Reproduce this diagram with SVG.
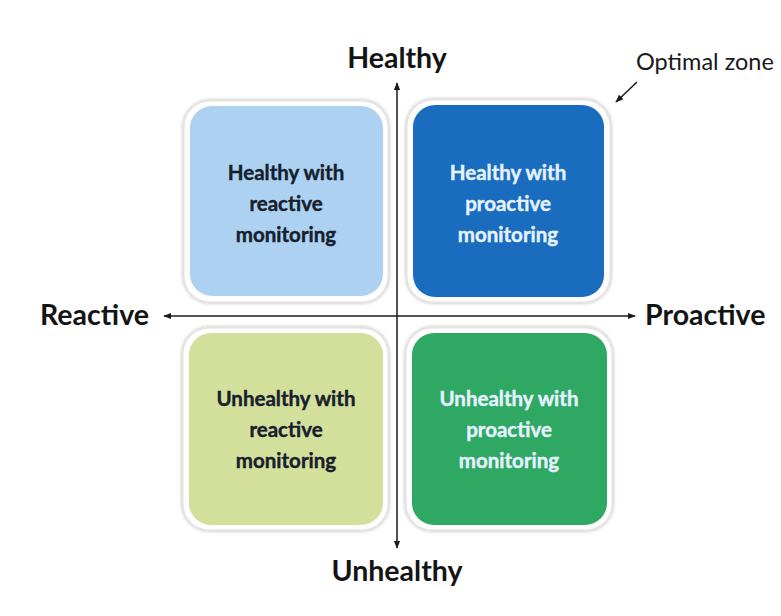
<svg xmlns="http://www.w3.org/2000/svg" width="781" height="616" viewBox="0 0 781 616">
  <defs>
    <marker id="arrow" viewBox="0 0 10 10" refX="9" refY="5" markerWidth="8" markerHeight="8" orient="auto-start-reverse" markerUnits="userSpaceOnUse">
      <path d="M0,1 L10,5 L0,9 Z" fill="#1a1a1a"/>
    </marker>
    <filter id="shadow" x="-10%" y="-10%" width="120%" height="120%">
      <feGaussianBlur in="SourceAlpha" stdDeviation="2"/>
      <feComponentTransfer><feFuncA type="linear" slope="0.35"/></feComponentTransfer>
      <feMerge><feMergeNode/><feMergeNode in="SourceGraphic"/></feMerge>
    </filter>
    <style>
      .rim { fill: #ffffff; stroke: #e4e1dc; stroke-width: 1; filter: url(#shadow); }
      .axis-label { font-family: Lato, "Open Sans", sans-serif; font-weight: bold; font-size: 28.5px; fill: #141414; }
      .box-text { font-family: Lato, "Open Sans", sans-serif; font-weight: bold; font-size: 20.5px; text-anchor: middle; stroke-width: 0.4; }
      .dark { fill: #16202c; stroke: #16202c; }
      .light { fill: #e6f2ff; stroke: #e6f2ff; }
      .axis { stroke: #1a1a1a; stroke-width: 1.5; fill: none; }
    </style>
  </defs>

  <rect width="781" height="616" fill="#ffffff"/>

  <!-- quadrant boxes -->
  <g id="healthy-reactive">
    <rect class="rim" x="184" y="101" width="204" height="201" rx="26"/>
    <rect x="190" y="106" width="193" height="190" rx="22" fill="#acd1f1"/>
    <text class="box-text dark" x="286" y="180">Healthy with</text>
    <text class="box-text dark" x="286" y="211">reactive</text>
    <text class="box-text dark" x="286" y="242">monitoring</text>
  </g>

  <g id="healthy-proactive">
    <rect class="rim" x="407" y="100" width="203" height="202" rx="26"/>
    <rect x="413" y="105" width="191" height="192" rx="22" fill="#1a6cbe"/>
    <text class="box-text light" x="508" y="180">Healthy with</text>
    <text class="box-text light" x="508" y="211">proactive</text>
    <text class="box-text light" x="508" y="242">monitoring</text>
  </g>

  <g id="unhealthy-reactive">
    <rect class="rim" x="183" y="328" width="205" height="202" rx="26"/>
    <rect x="189" y="333" width="194" height="192" rx="22" fill="#d3e09c"/>
    <text class="box-text dark" x="286" y="406">Unhealthy with</text>
    <text class="box-text dark" x="286" y="437">reactive</text>
    <text class="box-text dark" x="286" y="468">monitoring</text>
  </g>

  <g id="unhealthy-proactive">
    <rect class="rim" x="406" y="328" width="206" height="202" rx="26"/>
    <rect x="412" y="333" width="195" height="192" rx="22" fill="#2ea862"/>
    <text class="box-text light" x="509" y="406">Unhealthy with</text>
    <text class="box-text light" x="509" y="437">proactive</text>
    <text class="box-text light" x="509" y="468">monitoring</text>
  </g>

  <!-- axes and pointer -->
  <g id="connectors">
    <line class="axis" x1="397" y1="548" x2="397" y2="83" marker-start="url(#arrow)" marker-end="url(#arrow)"/>
    <line class="axis" x1="164" y1="316" x2="635" y2="316" marker-start="url(#arrow)" marker-end="url(#arrow)"/>
    <line class="axis" x1="637" y1="82" x2="616" y2="102" stroke-width="1.3" marker-end="url(#arrow)"/>
  </g>

  <!-- axis labels -->
  <g id="labels">
    <text class="axis-label" x="397" y="68" text-anchor="middle">Healthy</text>
    <text class="axis-label" x="397" y="581" text-anchor="middle">Unhealthy</text>
    <text class="axis-label" x="40" y="325">Reactive</text>
    <text class="axis-label" x="645" y="325">Proactive</text>
    <text x="636" y="70" font-family="Lato, 'Open Sans', sans-serif" font-size="23.5" fill="#1a1a1a">Optimal zone</text>
  </g>
</svg>
